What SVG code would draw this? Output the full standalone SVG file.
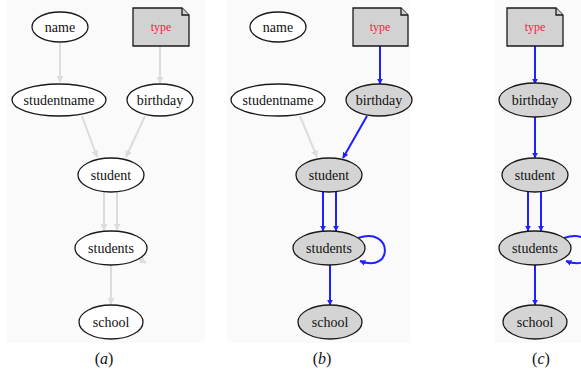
<svg xmlns="http://www.w3.org/2000/svg" width="581" height="373" viewBox="0 0 581 373" font-family="'Liberation Serif', 'Times New Roman', serif">
<defs>
<style>
.n ellipse{fill:#fff;stroke:#1a1a1a;stroke-width:1.3}
.n.g ellipse{fill:#d4d4d4}
.t path{fill:#d2d2d2;stroke:#1a1a1a;stroke-width:1.3}
text{font-family:'Liberation Serif','Times New Roman',serif;font-size:14px;text-anchor:middle;fill:#111}
.t text{fill:#e8283a;font-size:12px}
.f{stroke:#dcdcdc;stroke-width:2;fill:none;marker-end:url(#ag)}
.b{stroke:#1f1fff;stroke-width:2;fill:none;marker-end:url(#ab)}
.cap{font-size:16px}
.bg{fill:#fafafa}
</style>
<marker id="ab" viewBox="0 0 10 10" refX="9" refY="5" markerWidth="6" markerHeight="6" markerUnits="userSpaceOnUse" orient="auto"><path d="M0,0L10,5L0,10Z" fill="#1f1fff"/></marker>
<marker id="ag" viewBox="0 0 10 10" refX="9" refY="5" markerWidth="7" markerHeight="7" markerUnits="userSpaceOnUse" orient="auto"><path d="M0,0L10,5L0,10Z" fill="#dcdcdc"/></marker>
</defs>
<rect width="581" height="373" fill="#fff"/>
<rect class="bg" x="7" y="0" width="198" height="343"/>
<rect class="bg" x="227" y="0" width="183" height="343"/>
<rect class="bg" x="495" y="0" width="86" height="343"/>
<g id="edges">
<path class="f" d="M60,43V82"/>
<path class="f" d="M160,46V83"/>
<path class="f" d="M82,116L97,157"/>
<path class="f" d="M145,116L126,157"/>
<path class="f" d="M104,192V230"/>
<path class="f" d="M117,192V230"/>
<path class="f" d="M111,265V304"/>
<path class="f" d="M138,258L146,263" marker-end="none"/>
<path class="f" d="M300,116L317,157"/>
<path class="b" d="M380,46V84"/>
<path class="b" d="M367,116L343,158"/>
<path class="b" d="M323,192V231"/>
<path class="b" d="M336,192V231"/>
<path class="b" d="M330,265V305"/>
<path class="b" d="M358,238C393,226 394,274 360,261"/>
<path class="b" d="M535,46V84"/>
<path class="b" d="M535,117V158"/>
<path class="b" d="M528,192V231"/>
<path class="b" d="M541,192V231"/>
<path class="b" d="M535,265V305"/>
<path class="b" d="M564,238C599,226 600,274 566,261"/>
</g>
<g id="a-name" class="n"><ellipse cx="60" cy="27" rx="28" ry="15"/><text x="60" y="32">name</text></g>
<g id="a-type" class="t"><path d="M133,8H182L189,15V46H133Z"/><path d="M182,8V15H189" fill="none"/><text x="161" y="31">type</text></g>
<g id="a-studentname" class="n"><ellipse cx="59" cy="100" rx="47" ry="16"/><text x="59" y="105">studentname</text></g>
<g id="a-birthday" class="n"><ellipse cx="160" cy="100" rx="33" ry="16"/><text x="160" y="105">birthday</text></g>
<g id="a-student" class="n"><ellipse cx="111" cy="175" rx="33" ry="17"/><text x="111" y="180">student</text></g>
<g id="a-students" class="n"><ellipse cx="111" cy="248" rx="36" ry="17"/><text x="111" y="253">students</text></g>
<g id="a-school" class="n"><ellipse cx="111" cy="322" rx="32" ry="17"/><text x="111" y="327">school</text></g>
<g id="b-name" class="n"><ellipse cx="278" cy="27" rx="28" ry="15"/><text x="278" y="32">name</text></g>
<g id="b-type" class="t"><path d="M353,8H401L408,15V46H353Z"/><path d="M401,8V15H408" fill="none"/><text x="380" y="31">type</text></g>
<g id="b-studentname" class="n"><ellipse cx="278" cy="100" rx="47" ry="16"/><text x="278" y="105">studentname</text></g>
<g id="b-birthday" class="n g"><ellipse cx="379" cy="100" rx="33" ry="16"/><text x="379" y="105">birthday</text></g>
<g id="b-student" class="n g"><ellipse cx="329" cy="175" rx="33" ry="17"/><text x="329" y="180">student</text></g>
<g id="b-students" class="n g"><ellipse cx="329" cy="248" rx="36" ry="17"/><text x="329" y="253">students</text></g>
<g id="b-school" class="n g"><ellipse cx="330" cy="322" rx="32" ry="17"/><text x="330" y="327">school</text></g>
<g id="c-type" class="t"><path d="M507,8H556L563,15V46H507Z"/><path d="M556,8V15H563" fill="none"/><text x="535" y="31">type</text></g>
<g id="c-birthday" class="n g"><ellipse cx="535" cy="100" rx="36" ry="17"/><text x="535" y="105">birthday</text></g>
<g id="c-student" class="n g"><ellipse cx="535" cy="175" rx="33" ry="17"/><text x="535" y="180">student</text></g>
<g id="c-students" class="n g"><ellipse cx="535" cy="248" rx="36" ry="17"/><text x="535" y="253">students</text></g>
<g id="c-school" class="n g"><ellipse cx="535" cy="322" rx="32" ry="17"/><text x="535" y="327">school</text></g>
<text class="cap" x="104" y="364">(<tspan font-style="italic">a</tspan>)</text>
<text class="cap" x="322" y="364">(<tspan font-style="italic">b</tspan>)</text>
<text class="cap" x="541" y="364">(<tspan font-style="italic">c</tspan>)</text>
</svg>
